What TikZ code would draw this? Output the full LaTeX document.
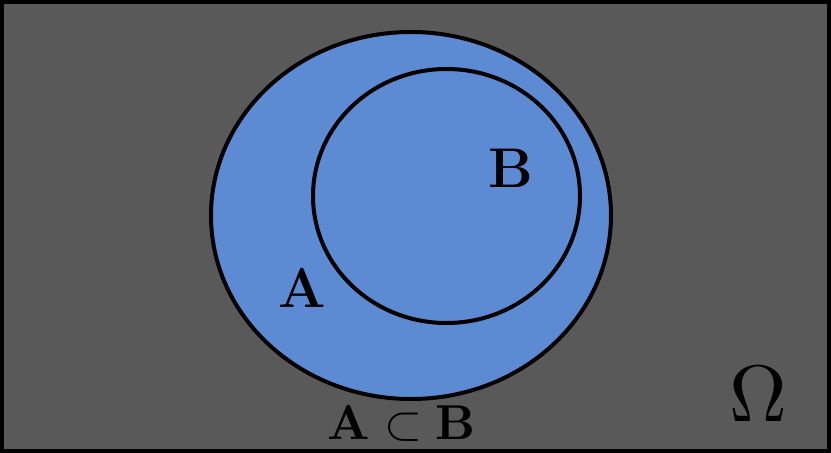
\documentclass[tikz,border=0pt]{standalone}
\usepackage{graphicx}
\usetikzlibrary{shapes.geometric}
\begin{document}
\begin{tikzpicture}[x=1pt,y=-1pt,
  setline/.style={draw=black,line width=4pt},
  biglabel/.style={font=\fontsize{56}{60}\selectfont\bfseries,inner sep=0pt}]
\definecolor{bggray}{RGB}{89,89,89}
\definecolor{setblue}{RGB}{92,139,211}
\useasboundingbox (0,0) rectangle (831,453);
\node[draw=black,line width=3.5pt,fill=bggray,minimum width=827pt,minimum height=449pt,inner sep=0pt] (omega) at (415.5,226.5) {};
\node[setline,fill=setblue,ellipse,minimum width=400pt,minimum height=367pt,inner sep=0pt] (A) at (411,215.5) {};
\node[setline,fill=setblue,ellipse,minimum width=267pt,minimum height=254pt,inner sep=0pt] (B) at (446.5,196) {};
\node[biglabel] (lb) at (511,168) {B};
\node[biglabel] (la) at (302,288) {A};
\node[inner sep=0pt] (rel) at (402,424) {\scalebox{4.9}{$\mathbf{A}\subset\mathbf{B}$}};
\node[inner sep=0pt] (lo) at (758,394) {\scalebox{8}{$\Omega$}};
\end{tikzpicture}
\end{document}
